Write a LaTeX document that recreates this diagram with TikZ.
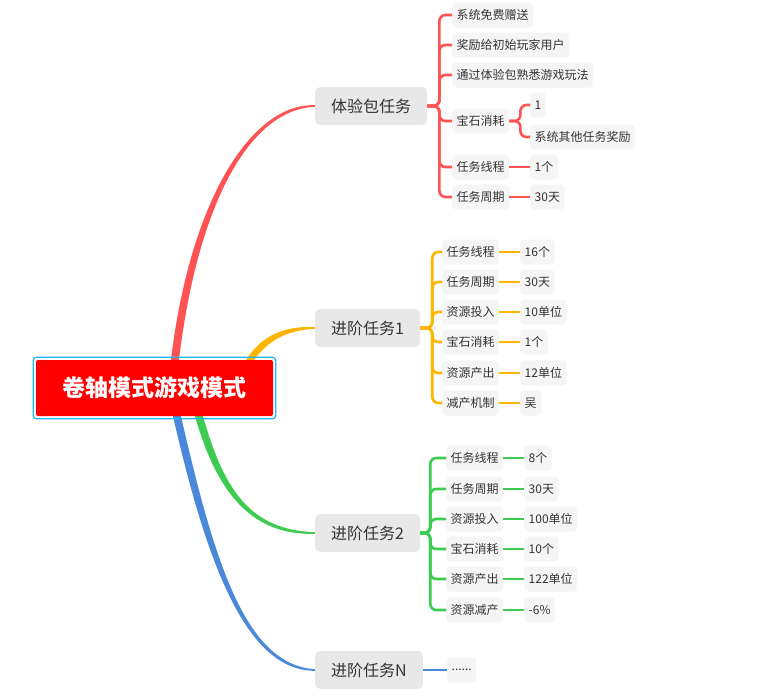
\documentclass[tikz,border=0pt]{standalone}
\usepackage{fontspec}
\setmainfont{Noto Sans CJK SC}
\usepackage{xcolor}
\usepackage{tikz}
\usetikzlibrary{calc,backgrounds}
\definecolor{mred}{HTML}{FF5353}
\definecolor{myel}{HTML}{FFB400}
\definecolor{mgrn}{HTML}{3DCB52}
\definecolor{mblu}{HTML}{4A88DA}
\definecolor{tgray}{HTML}{333333}
\definecolor{topicfill}{HTML}{E8E8E8}
\definecolor{subfill}{HTML}{F5F5F5}
\definecolor{rootred}{HTML}{FF0000}
\definecolor{rootline}{HTML}{1DB5F2}

\begin{document}
\begin{tikzpicture}[x=1pt,y=-1pt,
  rootbox/.style={fill=rootred,text=white,font=\fontsize{23}{23}\selectfont\bfseries,minimum width=237pt,minimum height=56pt,rounded corners=2pt},
  topicbox/.style={fill=topicfill,rounded corners=5pt,text=tgray,font=\fontsize{16}{16}\selectfont,minimum height=38pt,inner xsep=16pt,anchor=west},
  subbox/.style={fill=subfill,rounded corners=4pt,text=tgray,font=\fontsize{12}{12}\selectfont,minimum height=25pt,inner xsep=4.5pt,anchor=west},
  link/.style={line width=2.6pt,rounded corners=6pt}]
\useasboundingbox (0,0) rectangle (771,694);
\node[rootbox] (root) at (154.5,388) {卷轴模式游戏模式};
\draw[rootline,line width=1.2pt,rounded corners=3pt] ([shift={(-2.5pt,2.5pt)}]root.north west) rectangle ([shift={(2.5pt,-2.5pt)}]root.south east);
\node[topicbox] (t1) at (315,106) {体验包任务};
\node[topicbox] (t2) at (315,328) {进阶任务1};
\node[topicbox] (t3) at (315,533) {进阶任务2};
\node[topicbox] (t4) at (315,670) {进阶任务N};
\begin{scope}[on background layer]
\fill[mred] ([xshift=16.5pt]root.north) .. controls (190,201) and (251,103) .. ([yshift=0.8pt]t1.west)
  -- ([yshift=-0.8pt]t1.west) .. controls (251,109) and (198,201) .. ([xshift=24.5pt]root.north) -- cycle;
\fill[myel] ([xshift=-27pt]root.north east) .. controls (262,335) and (285,325.5) .. ([yshift=0.8pt]t2.west)
  -- ([yshift=-0.8pt]t2.west) .. controls (285,330.5) and (268,341) .. ([xshift=-19pt]root.north east) -- cycle;
\fill[mgrn] ([xshift=40.5pt]root.south) .. controls (216,490) and (250,536) .. ([yshift=-0.8pt]t3.west)
  -- ([yshift=0.8pt]t3.west) .. controls (250,530) and (224,490) .. ([xshift=48.5pt]root.south) -- cycle;
\fill[mblu] ([xshift=18.5pt]root.south) .. controls (206,560) and (245,671) .. ([yshift=-0.8pt]t4.west)
  -- ([yshift=0.8pt]t4.west) .. controls (245,665) and (214,560) .. ([xshift=26.5pt]root.south) -- cycle;
\end{scope}
\foreach \n/\y/\t in {1/15/系统免费赠送,2/45/奖励给初始玩家用户,3/75/通过体验包熟悉游戏玩法,4/121/宝石消耗,5/167/任务线程,6/197/任务周期} {
  \node[subbox] (a\n) at (452,\y) {\t};
  \draw[link,mred] (t1.east) -- ++(12,0) |- (a\n.west);
}
\node[subbox] (g1) at (530,105) {1};
\node[subbox] (g2) at (530,137) {系统其他任务奖励};
\foreach \n in {1,2} \draw[link,mred] (a4.east) -- ++(11,0) |- (g\n.west);
\node[subbox] (av5) at (530,167) {1个};
\node[subbox] (av6) at (530,197) {30天};
\foreach \n in {5,6} \draw[link,mred] (a\n.east) -- (av\n.west);
\foreach \n/\y/\t/\v in {1/252/任务线程/16个,2/282/任务周期/30天,3/312/资源投入/10单位,4/342/宝石消耗/1个,5/373/资源产出/12单位,6/403/减产机制/吴} {
  \node[subbox] (b\n) at (442,\y) {\t};
  \node[subbox] (bv\n) at (520,\y) {\v};
  \draw[link,myel] (t2.east) -- ++(12,0) |- (b\n.west);
  \draw[link,myel] (b\n.east) -- (bv\n.west);
}
\foreach \n/\y/\t/\v in {1/458/任务线程/8个,2/489/任务周期/30天,3/519/资源投入/100单位,4/549/宝石消耗/10个,5/579/资源产出/122单位,6/610/资源减产/-6\%} {
  \node[subbox] (c\n) at (446,\y) {\t};
  \node[subbox] (cv\n) at (524,\y) {\v};
  \draw[link,mgrn] (t3.east) -- ++(10,0) |- (c\n.west);
  \draw[link,mgrn] (c\n.east) -- (cv\n.west);
}
\node[subbox] (d1) at (447,670) {......};
\draw[link,mblu] (t4.east) -- (d1.west);
\end{tikzpicture}
\end{document}
